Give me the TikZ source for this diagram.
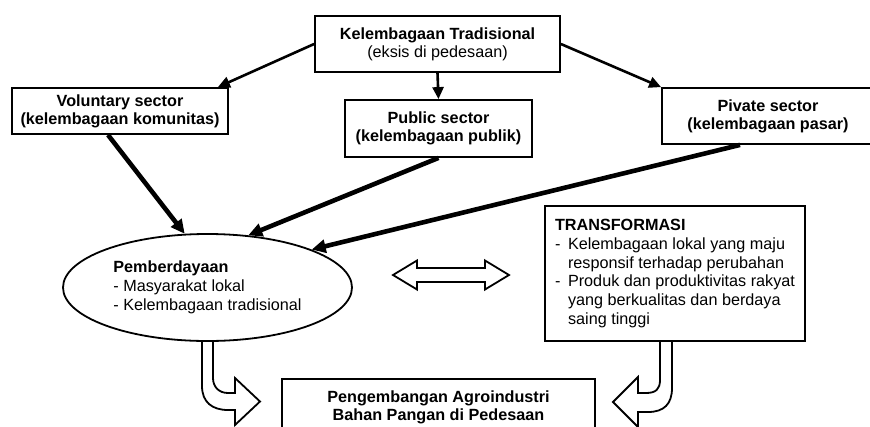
\documentclass[tikz,border=0pt]{standalone}
\usepackage{fontspec}
\setmainfont{Liberation Sans}
\usepackage{tikz}
\usetikzlibrary{positioning,arrows.meta,shapes.geometric}

\begin{document}
\begin{tikzpicture}[x=1pt,y=-1pt]
		\tikzstyle{every node}+=[inner sep=0pt, font=\fontsize{16.2}{18.8}\selectfont]
		\tikzstyle{kotak}=[draw, line width=1.8pt, align=center, font=\fontsize{16.2}{18}\selectfont\bfseries]
		\tikzstyle{panah}=[line width=2.6pt, -{Triangle[length=12pt,width=11pt]}]
		\tikzstyle{panahtebal}=[line width=4.6pt, -{Triangle[length=14pt,width=13pt]}]
		\tikzstyle{blok}=[draw, line width=1.8pt, line join=miter]
		\useasboundingbox (0,0) rectangle (870,426);
		% kotak-kotak
		\node[kotak, minimum width=245pt, minimum height=56pt] (tradisi) at (437.5,44) {Kelembagaan Tradisional\\ \mdseries (eksis di pedesaan)};
		\node[kotak, minimum width=216pt, minimum height=46pt] (volunter) at (120,111) {Voluntary sector\\(kelembagaan komunitas)};
		\node[kotak, minimum width=187pt, minimum height=57pt] (publik) at (438.5,128.5) {Public sector\\(kelembagaan publik)};
		\node[kotak, minimum width=212pt, minimum height=56pt] (swasta) at (768,116) {Pivate sector\\(kelembagaan pasar)};
		\node[draw, ellipse, line width=1.8pt, minimum width=289pt, minimum height=107pt, align=left] (berdaya) at (207.5,287.5) {\textbf{Pemberdayaan}\\- Masyarakat lokal\\- Kelembagaan tradisional};
		\node[draw, line width=1.8pt, minimum width=260pt, minimum height=135pt, align=left] (transformasi) at (675,273.5) {\textbf{TRANSFORMASI}\\
			\makebox[13pt][l]{-}Kelembagaan lokal yang maju\\
			\hspace*{13pt}responsif terhadap perubahan\\
			\makebox[13pt][l]{-}Produk dan produktivitas rakyat\\
			\hspace*{13pt}yang berkualitas dan berdaya\\
			\hspace*{13pt}saing tinggi};
		\node[kotak, anchor=north, minimum width=313pt, minimum height=56pt] (agro) at (438.5,378) {Pengembangan Agroindustri\\Bahan Pangan di Pedesaan};
		% panah
		\draw[panah] (tradisi.west) -- ([xshift=-11pt]volunter.north east);
		\draw[panah] (tradisi.south) -- (publik.north);
		\draw[panah] (tradisi.east) -- (swasta.north west);
		\draw[panahtebal] ([xshift=-12pt]volunter.south) -- (berdaya.113);
		\draw[panahtebal] (publik.south) -- (berdaya.52);
		\draw[panahtebal] ([xshift=-28pt]swasta.south) -- (berdaya.20);
		% panah blok
		\coordinate (tukar) at (451,275);
		\draw[blok] ([xshift=-58pt]tukar) -- ++(24,-14.5) -- ++(0,7.5) -- ++(68,0) -- ++(0,-7.5) -- ++(24,14.5) -- ++(-24,14.5) -- ++(0,-7.5) -- ++(-68,0) -- ++(0,7.5) -- cycle;
		\draw[blok] ([xshift=-5.5pt]berdaya.south) -- (202,386) .. controls (202,402) and (212,410) .. (228,410) -- (235,410) -- (235,425) -- (260,401.5) -- (235,378) -- (235,393) -- (228,393) .. controls (219,393) and (213,387) .. (213,378) -- ([xshift=5.5pt]berdaya.south);
		\draw[blok] ([xshift=-3pt]transformasi.south) -- (672,388) .. controls (672,404) and (664,412) .. (648,412) -- (638,412) -- (638,427) -- (613,402) -- (638,377) -- (638,393) -- (646,393) .. controls (656,393) and (660,389) .. (660,380) -- ([xshift=-15pt]transformasi.south);
\end{tikzpicture}
\end{document}
